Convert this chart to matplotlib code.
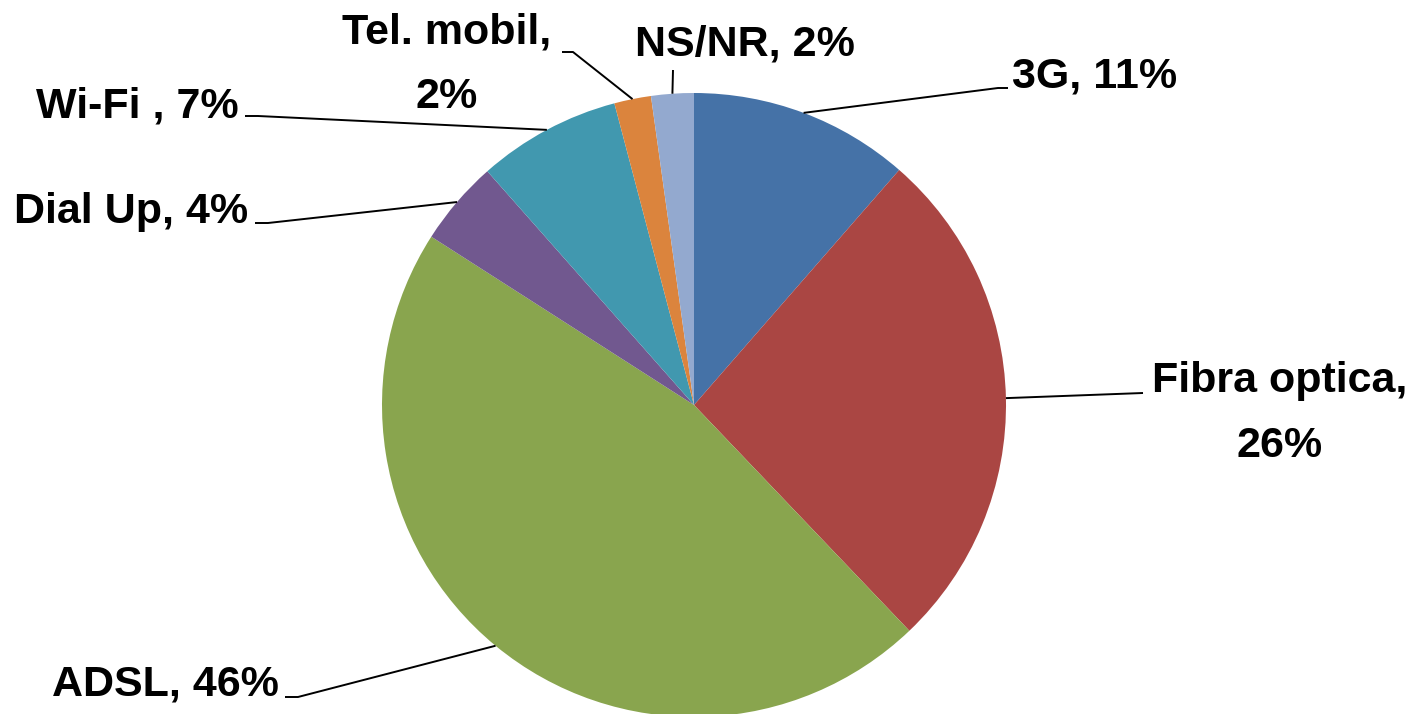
import numpy as np
import matplotlib
matplotlib.use("Agg")
import matplotlib.pyplot as plt

# ---- data ----
categories = ["3G", "Fibra optica", "ADSL", "Dial Up", "Wi-Fi ", "Tel. mobil", "NS/NR"]
shares = [11.4, 26.4, 46.1, 4.4, 7.4, 1.9, 2.2]
colors = ["#4572A7", "#AA4643", "#89A54E", "#71588F", "#4198AF", "#DB843D", "#93A9CF"]

W, H = 1414, 714
fig = plt.figure(figsize=(W / 100, H / 100), dpi=100)
ax = fig.add_axes([0, 0, 1, 1])

cx, cy, R = 694, H - 405, 312
wedges, _ = ax.pie(shares, colors=colors, startangle=90, counterclock=False,
                   center=(cx, cy), radius=R, frame=True,
                   wedgeprops=dict(linewidth=0))
ax.set_xlim(0, W)
ax.set_ylim(0, H)
ax.set_aspect("equal")
ax.axis("off")

total = sum(shares)
pcts = [int(round(v / total * 100)) for v in shares]

# label layout (image pixel coords, y downward): elbow points, text anchor (last-line baseline)
layout = {
    "3G":           dict(path=[(998, 88), (1008, 88)], txt=(1012, 87), ha="left", br=False),
    "Fibra optica": dict(path=[(1143, 393)], txt=(1280, 457), ha="center", br=True),
    "ADSL":         dict(path=[(298, 697), (285, 697)], txt=(279, 696), ha="right", br=False),
    "Dial Up":      dict(path=[(268, 223), (255, 223)], txt=(248, 223), ha="right", br=False),
    "Wi-Fi ":       dict(path=[(258, 116), (245, 116)], txt=(239, 117), ha="right", br=False),
    "Tel. mobil":   dict(path=[(573, 52), (562, 52)], txt=(447, 108), ha="center", br=True),
    "NS/NR":        dict(path=[(673, 70)], txt=(745, 55), ha="center", br=False),
}

font = dict(family=["Liberation Sans", "DejaVu Sans"], weight="bold", size=31)

for w, name, p in zip(wedges, categories, pcts):
    mid = np.deg2rad((w.theta1 + w.theta2) / 2)
    ex, ey = cx + R * np.cos(mid), cy + R * np.sin(mid)
    lay = layout[name]
    xs = [ex] + [q[0] for q in lay["path"]]
    ys = [ey] + [H - q[1] for q in lay["path"]]
    ax.plot(xs, ys, color="black", lw=1.4, solid_capstyle="butt", zorder=3)
    sep = ",\n" if lay["br"] else ", "
    label = f"{name}{sep}{p}%"
    ax.text(lay["txt"][0], H - lay["txt"][1], label, ha=lay["ha"], va="baseline",
            multialignment="center", linespacing=1.8, **font)

fig.savefig("out.png", dpi=100)
